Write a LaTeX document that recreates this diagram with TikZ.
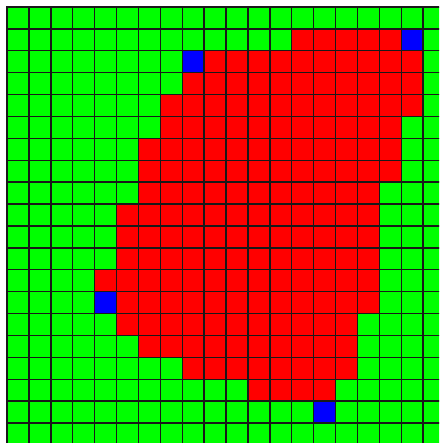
\documentclass[tikz,border=0pt]{standalone}
\definecolor{gridgreen}{RGB}{0,255,0}
\definecolor{gridred}{RGB}{255,0,0}
\definecolor{gridblue}{RGB}{0,0,255}
\tikzset{
  gridline/.style={draw=black!90, line width=1.4pt},
  redcell/.style={fill=gridred},
  bluecell/.style={fill=gridblue}
}
\begin{document}
\begin{tikzpicture}[x=1pt,y=1pt]
\useasboundingbox (0,0) rectangle (439,443);
\clip (0,0) rectangle (439,443);
\fill[white] (0,0) rectangle (439,443);
\def\cs{21.9}
\def\ox{7}
\def\oy{436}
% green field
\fill[gridgreen] (\ox,\oy) rectangle ({\ox+20*\cs},{\oy-20*\cs});
% red runs: row/first/last
\foreach \r/\a/\b in {1/13/17, 2/9/18, 3/8/18, 4/7/18, 5/7/17, 6/6/17, 7/6/17,
  8/6/16, 9/5/16, 10/5/16, 11/5/16, 12/4/16, 13/5/16, 14/5/15, 15/6/15,
  16/8/15, 17/11/14}
  \fill[redcell] ({\ox+\a*\cs},{\oy-\r*\cs}) rectangle ({\ox+(\b+1)*\cs},{\oy-(\r+1)*\cs});
% blue cells: row/col
\foreach \r/\c in {1/18, 2/8, 13/4, 18/14}
  \fill[bluecell] ({\ox+\c*\cs},{\oy-\r*\cs}) rectangle ({\ox+(\c+1)*\cs},{\oy-(\r+1)*\cs});
% grid lines
\foreach \i in {0,...,20}{
  \draw[gridline] ({\ox+\i*\cs},{\oy+0.7}) -- ({\ox+\i*\cs},{\oy-20*\cs});
  \draw[gridline] ({\ox-0.7},{\oy-\i*\cs}) -- ({\ox+20*\cs},{\oy-\i*\cs});
}
\end{tikzpicture}
\end{document}
